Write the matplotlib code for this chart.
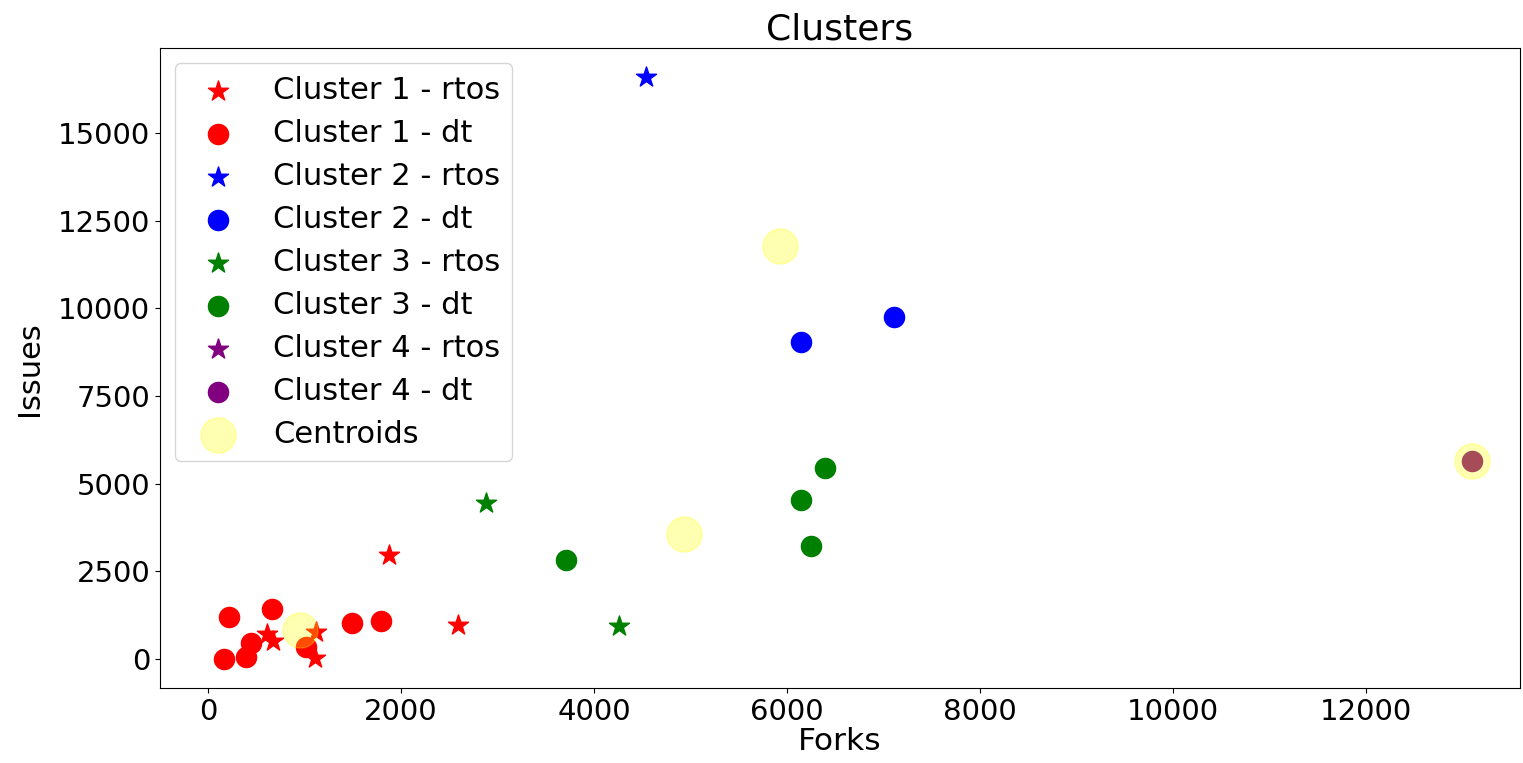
import matplotlib
matplotlib.use("Agg")
import matplotlib.pyplot as plt

# forks / issues per cluster, split by repo type
c1_rtos_forks = [1880, 2590, 610, 670, 1115, 1105]
c1_rtos_issues = [2970, 960, 730, 520, 780, 40]
c1_dt_forks = [220, 660, 1490, 1790, 160, 390, 440, 1010]
c1_dt_issues = [1210, 1420, 1020, 1090, 0, 70, 450, 350]

c2_rtos_forks = [4540]
c2_rtos_issues = [16600]
c2_dt_forks = [7110, 6150]
c2_dt_issues = [9750, 9040]

c3_rtos_forks = [2880, 4260]
c3_rtos_issues = [4450, 950]
c3_dt_forks = [3710, 6390, 6150, 6250]
c3_dt_issues = [2830, 5460, 4550, 3220]

c4_rtos_forks = []
c4_rtos_issues = []
c4_dt_forks = [13100]
c4_dt_issues = [5650]

centroid_forks = [950, 5930, 4930, 13100]
centroid_issues = [830, 11780, 3560, 5650]

colors = ["red", "blue", "green", "purple"]
rtos = [(c1_rtos_forks, c1_rtos_issues), (c2_rtos_forks, c2_rtos_issues),
        (c3_rtos_forks, c3_rtos_issues), (c4_rtos_forks, c4_rtos_issues)]
dt = [(c1_dt_forks, c1_dt_issues), (c2_dt_forks, c2_dt_issues),
      (c3_dt_forks, c3_dt_issues), (c4_dt_forks, c4_dt_issues)]

plt.rcParams["font.size"] = 21
fig = plt.figure(figsize=(15.23, 7.63), dpi=100)
ax = fig.add_axes([0.105, 0.098, 0.893, 0.839])

for i in range(4):
    ax.scatter(rtos[i][0], rtos[i][1], s=230, c=colors[i], marker="*",
               label="Cluster %d - rtos" % (i + 1))
    ax.scatter(dt[i][0], dt[i][1], s=210, c=colors[i], marker="o",
               label="Cluster %d - dt" % (i + 1))

ax.scatter(centroid_forks, centroid_issues, s=640, c="yellow", alpha=0.3,
           label="Centroids")

ax.set_xlim(-500, 13600)
ax.set_ylim(-830, 17420)
ax.set_title("Clusters", fontsize=26)
ax.set_xlabel("Forks", fontsize=22.5, labelpad=1)
ax.set_ylabel("Issues", fontsize=22, labelpad=10)
ax.legend(loc="upper left", fontsize=22, labelspacing=0.46)

fig.savefig("out.png", dpi=100)
